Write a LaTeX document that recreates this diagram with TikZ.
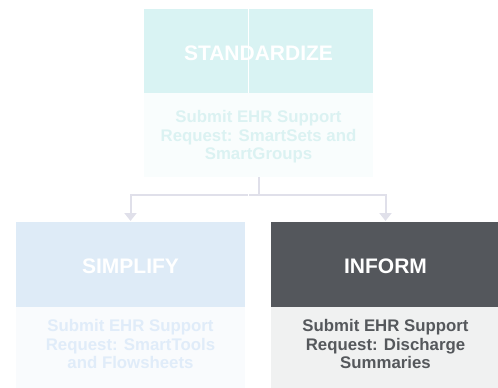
\documentclass[tikz,border=0pt]{standalone}
\usepackage{fontspec}
\setmainfont{Liberation Sans}
\usetikzlibrary{arrows.meta}
\definecolor{stdhead}{RGB}{217,243,243}
\definecolor{stdbody}{RGB}{249,253,253}
\definecolor{stdtext}{RGB}{219,242,242}
\definecolor{simhead}{RGB}{222,235,247}
\definecolor{simbody}{RGB}{249,251,253}
\definecolor{simtext}{RGB}{224,236,249}
\definecolor{infhead}{RGB}{84,87,92}
\definecolor{infbody}{RGB}{240,241,241}
\definecolor{inftext}{RGB}{85,88,92}
\definecolor{connc}{RGB}{224,224,234}
\tikzset{
  headbox/.style={rectangle, inner sep=0pt, outer sep=0pt, minimum width=229pt,
    font=\fontsize{21}{24}\selectfont\bfseries, text=white, text height=18pt, text depth=0pt},
  bodybox/.style={rectangle, inner sep=0pt, outer sep=0pt, minimum width=229pt},
  bodytext/.style={inner sep=0pt, outer sep=0pt, align=center,
    font=\fontsize{16.8}{18.5}\selectfont\bfseries},
  conn/.style={draw=connc, line width=2pt},
  connarrow/.style={conn, -{Triangle[width=12pt,length=8pt]}, shorten >=1pt}
}
\begin{document}
\begin{tikzpicture}[x=1pt,y=-1pt]
\useasboundingbox (0,0) rectangle (498,388);
% top
\node[headbox, fill=stdhead, minimum height=84pt] (th) at (258.5,51) {STANDARDIZE};
\node[bodybox, fill=stdbody, minimum height=84pt] (tb) at (258.5,135) {};
\node[bodytext, text=stdtext] (tbt) at (258.5,137)
  {Submit EHR Support\\Request: SmartSets and\\SmartGroups};
\draw[white, line width=1pt] (th.north -| 248,0) -- (th.south -| 248,0);
% left
\node[headbox, fill=simhead, minimum height=85pt] (lh) at (130.5,264.5) {SIMPLIFY};
\node[bodybox, fill=simbody, minimum height=81pt] (lb) at (130.5,347.5) {};
\node[bodytext, text=simtext] (lbt) at (130.5,344)
  {Submit EHR Support\\Request: SmartTools\\and Flowsheets};
% right
\node[headbox, fill=infhead, minimum height=85pt] (rh) at (385.5,264.5) {INFORM};
\node[bodybox, fill=infbody, minimum height=81pt] (rb) at (385.5,347.5) {};
\node[bodytext, text=inftext] (rbt) at (385.5,344)
  {Submit EHR Support\\Request: Discharge\\Summaries};
% connectors
\draw[conn] (tb.south) -- ++(0,18) coordinate (j);
\draw[connarrow] (j) -| (lh.north);
\draw[connarrow] (j) -| (rh.north);
\draw[white, line width=1pt] (248,193.5) -- (248,196.5);
\end{tikzpicture}
\end{document}
